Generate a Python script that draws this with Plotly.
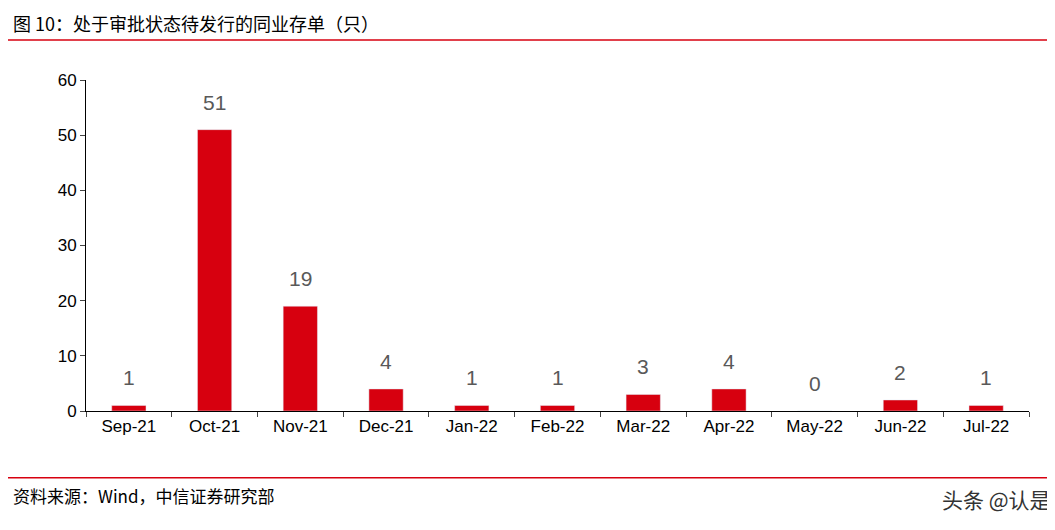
import plotly.graph_objects as go

months = ["Sep-21", "Oct-21", "Nov-21", "Dec-21", "Jan-22", "Feb-22",
          "Mar-22", "Apr-22", "May-22", "Jun-22", "Jul-22"]
counts = [1, 51, 19, 4, 1, 1, 3, 4, 0, 2, 1]

RED = "#D7000F"
FONT = "Noto Sans CJK SC, Arial, sans-serif"

fig = go.Figure(go.Bar(x=months, y=counts, marker_color=RED, width=0.4))

# value labels sit well above the bars
labels = [dict(x=m, y=v, text=str(v), showarrow=False, yanchor="bottom", yshift=14,
               font=dict(size=21, color="#595959", family="Arial"))
          for m, v in zip(months, counts)]

fig.update_layout(
    width=1055, height=530,
    margin=dict(l=78, r=34, t=72, b=127, autoexpand=False),
    paper_bgcolor="white", plot_bgcolor="white",
    showlegend=False,
    font=dict(family="Arial", color="black"),
    xaxis=dict(showline=True, linecolor="black", linewidth=1,
               ticks="outside", tickson="boundaries", ticklen=5,
               tickfont=dict(size=17)),
    yaxis=dict(range=[0, 60], dtick=10, showgrid=False, zeroline=False,
               showline=True, linecolor="black", linewidth=1,
               ticks="outside", ticklen=5, tickfont=dict(size=17)),
    shapes=[
        dict(type="line", xref="paper", yref="paper", x0=-0.085, x1=1.045,
             y0=1.121, y1=1.121, line=dict(color=RED, width=1.5)),
        dict(type="line", xref="paper", yref="paper", x0=-0.085, x1=1.045,
             y0=-0.202, y1=-0.202, line=dict(color=RED, width=1.5)),
    ],
    annotations=labels + [
        dict(text="图 10：处于审批状态待发行的同业存单（只）", xref="paper", yref="paper",
             x=-0.08, y=1.126, xanchor="left", yanchor="bottom", showarrow=False,
             font=dict(size=18, family=FONT)),
        dict(text="资料来源：Wind，中信证券研究部", xref="paper", yref="paper",
             x=-0.08, y=-0.21, xanchor="left", yanchor="top", showarrow=False,
             font=dict(size=17, family=FONT)),
        dict(text="头条 @认是", xref="paper", yref="paper",
             x=1.025, y=-0.215, xanchor="right", yanchor="top", showarrow=False,
             font=dict(size=21, family=FONT, color="#333333")),
    ],
)

fig.write_html("out.html")
